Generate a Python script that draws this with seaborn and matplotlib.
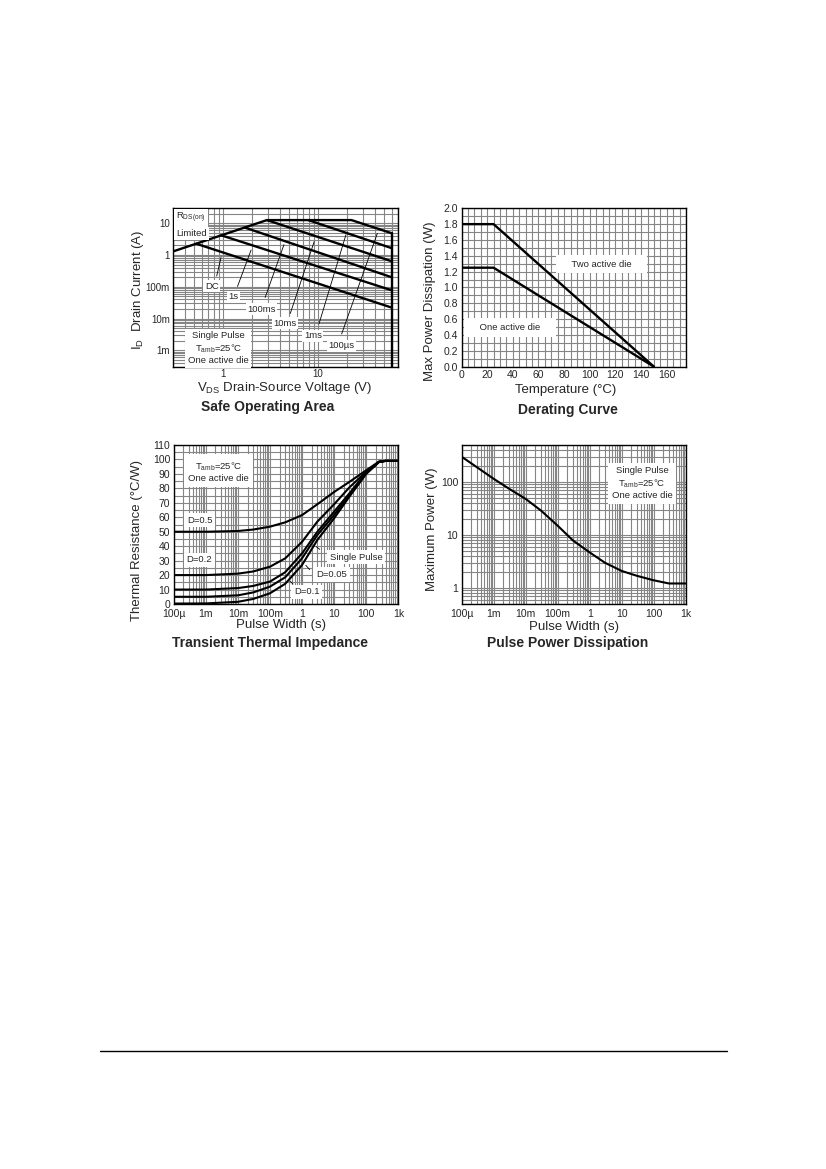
import matplotlib
matplotlib.use('Agg')
import matplotlib.pyplot as plt
from matplotlib.ticker import MultipleLocator, LogLocator, NullFormatter, FormatStrFormatter
from matplotlib.lines import Line2D
import numpy as np
import pandas as pd
import seaborn as sns

sns.set_style('white')
plt.rcParams['font.family'] = ['Liberation Sans', 'DejaVu Sans']
plt.rcParams['mathtext.fontset'] = 'custom'
plt.rcParams['mathtext.rm'] = 'Liberation Sans'

# ---- Safe Operating Area (V, A) ----
soa_rds_v = [0.3, 2.9]
soa_rds_i = [1.3, 12.5]
soa_100us_v = [2.9, 22.5, 60]
soa_100us_i = [12.5, 12.5, 4.8]
soa_1ms_v = [7.9, 60]
soa_1ms_i = [12.5, 1.63]
soa_10ms_v = [2.9, 60]
soa_10ms_i = [12.5, 0.63]
soa_100ms_v = [1.69, 60]
soa_100ms_i = [7.3, 0.198]
soa_1s_v = [0.96, 60]
soa_1s_i = [4.15, 0.077]
soa_dc_v = [0.525, 60]
soa_dc_i = [2.25, 0.022]
soa_vmax_v = [60, 60]
soa_vmax_i = [3e-4, 4.8]
soa_xticks = [1, 10]
soa_xlabels = ['1', '10']
soa_yticks = [1e-3, 1e-2, 1e-1, 1, 10]
soa_ylabels = ['1m', '10m', '100m', '1', '10']

# ---- Derating (degC, W) ----
der_temp = [0, 25, 150]
der_two = [1.8, 1.8, 0.0]
der_one = [1.25, 1.25, 0.0]

# ---- Transient thermal impedance (s, degC/W) ----
tz_t = [1e-4, 1e-3, 1e-2, 0.03, 0.1, 0.3, 1, 3, 10, 30, 100, 250, 400, 1000]
tz_d05 = [50, 50, 50.5, 51.5, 53.5, 56.5, 61.5, 69, 77.5, 84.5, 92.5, 98.5, 99, 99]
tz_d02 = [20, 20, 21, 22.5, 25.8, 31.6, 43, 57, 69, 80.7, 91.5, 98.5, 99, 99]
tz_d01 = [10, 10, 11, 12.5, 15.5, 22, 35, 50, 63.9, 76.6, 91, 98.3, 99, 99]
tz_d005 = [5, 5, 6, 8, 12, 18.5, 31.6, 47.7, 61.6, 75.4, 90.4, 98.3, 99, 99]
tz_single = [0.3, 0.4, 1.5, 3.5, 7.4, 14, 27, 44.3, 59.3, 74.3, 90, 98.2, 99, 99]

# ---- Pulse power (s, W) ----
pp_t = [1e-4, 3e-4, 1e-3, 3e-3, 1e-2, 0.03, 0.1, 0.3, 1, 3, 10, 30, 100, 300, 1000]
pp_p = [300, 190, 115, 75, 48, 29, 15, 7.9, 4.7, 3.0, 2.1, 1.7, 1.4, 1.22, 1.22]

pw_ticks = [1e-4, 1e-3, 1e-2, 1e-1, 1, 10, 100, 1000]
pw_labels = ['100µ', '1m', '10m', '100m', '1', '10', '100', '1k']

GRID = '#858585'
W, H = 826, 1169


def px_axes(x0, y0, x1, y1):
    return [x0 / W, 1 - y1 / H, (x1 - x0) / W, (y1 - y0) / H]


def ftext(x, y, s, **kw):
    fig.text(x / W, 1 - y / H, s, ha='center', va='center', **kw)


def style(ax, size=7.5, xpad=3.5):
    ax.grid(True, which='both', color=GRID, lw=0.8)
    ax.tick_params(which='both', length=0, labelsize=size)
    ax.tick_params(axis='x', pad=xpad)
    ax.tick_params(axis='y', pad=2.5)
    for sp in ax.spines.values():
        sp.set_color('black')
        sp.set_linewidth(1.0)
    ax.set_xlabel('')
    ax.set_ylabel('')


def log_minor(axis):
    axis.set_minor_locator(LogLocator(base=10, subs=np.arange(2, 10), numticks=30))
    axis.set_minor_formatter(NullFormatter())


def note(ax, x, y, s, pad=1.0, size=6.8):
    ax.text(x, y, s, transform=ax.transAxes, ha='center', va='center', fontsize=size,
            bbox=dict(fc='white', ec='none', pad=pad), zorder=4)


def pointer(ax, start, end):
    ax.annotate('', xy=end, xytext=start, xycoords='axes fraction', textcoords='axes fraction',
                arrowprops=dict(arrowstyle='-', lw=0.6, color='black'), zorder=3)


fig = plt.figure(figsize=(8.26, 11.69), dpi=100)

# ================= Safe Operating Area =================
ax1 = fig.add_axes(px_axes(173.3, 208, 398.3, 367))
soa = pd.concat([
    pd.DataFrame({'V': soa_rds_v, 'I': soa_rds_i, 'curve': 'RDS'}),
    pd.DataFrame({'V': soa_100us_v, 'I': soa_100us_i, 'curve': '100us'}),
    pd.DataFrame({'V': soa_1ms_v, 'I': soa_1ms_i, 'curve': '1ms'}),
    pd.DataFrame({'V': soa_10ms_v, 'I': soa_10ms_i, 'curve': '10ms'}),
    pd.DataFrame({'V': soa_100ms_v, 'I': soa_100ms_i, 'curve': '100ms'}),
    pd.DataFrame({'V': soa_1s_v, 'I': soa_1s_i, 'curve': '1s'}),
    pd.DataFrame({'V': soa_dc_v, 'I': soa_dc_i, 'curve': 'DC'}),
    pd.DataFrame({'V': soa_vmax_v, 'I': soa_vmax_i, 'curve': 'Vmax'}),
])
ax1.set_xscale('log')
ax1.set_yscale('log')
sns.lineplot(data=soa, x='V', y='I', units='curve', estimator=None, sort=False,
             color='black', lw=1.7, ax=ax1, legend=False)
ax1.set_xlim(0.3, 70)
ax1.set_ylim(3e-4, 30)
ax1.set_xticks(soa_xticks)
ax1.set_xticklabels(soa_xlabels)
ax1.set_yticks(soa_yticks)
ax1.set_yticklabels(soa_ylabels)
log_minor(ax1.xaxis)
log_minor(ax1.yaxis)
style(ax1, size=7, xpad=1.5)
ax1.text(0.012, 0.935, r'R$_{\mathregular{DS(on)}}$', transform=ax1.transAxes, ha='left', va='center',
         fontsize=6.8, bbox=dict(fc='white', ec='none', pad=1.5), zorder=4)
ax1.text(0.012, 0.84, 'Limited', transform=ax1.transAxes, ha='left', va='center',
         fontsize=6.8, bbox=dict(fc='white', ec='none', pad=1.5), zorder=4)
note(ax1, 0.171, 0.509, 'DC')
note(ax1, 0.266, 0.442, '1s')
note(ax1, 0.393, 0.363, '100ms')
note(ax1, 0.496, 0.275, '10ms')
note(ax1, 0.620, 0.197, '1ms')
note(ax1, 0.748, 0.134, '100µs')
pointer(ax1, (0.190, 0.555), (0.215, 0.706))
pointer(ax1, (0.281, 0.490), (0.350, 0.752))
pointer(ax1, (0.404, 0.421), (0.496, 0.786))
pointer(ax1, (0.516, 0.320), (0.630, 0.805))
pointer(ax1, (0.644, 0.255), (0.771, 0.849))
pointer(ax1, (0.744, 0.191), (0.911, 0.857))
note(ax1, 0.200, 0.118, 'Single Pulse\n' + r'T$_{\mathregular{amb}}$=25°C' + '\nOne active die',
     pad=2.0)

ftext(285, 388.5, r'V$_{\mathregular{DS}}$ Drain-Source Voltage (V)', fontsize=9.5)
ftext(138, 290, r'I$_{\mathregular{D}}$  Drain Current (A)', fontsize=9.5, rotation=90)
ftext(268, 407, 'Safe Operating Area', fontsize=10, fontweight='bold')

# ================= Derating Curve =================
ax2 = fig.add_axes(px_axes(461.5, 208.3, 686, 366.7))
der = pd.concat([
    pd.DataFrame({'T': der_temp, 'P': der_two, 'curve': 'two'}),
    pd.DataFrame({'T': der_temp, 'P': der_one, 'curve': 'one'}),
])
sns.lineplot(data=der, x='T', y='P', units='curve', estimator=None, sort=False,
             color='black', lw=1.7, ax=ax2, legend=False)
ax2.set_xlim(0, 175)
ax2.set_ylim(0, 2.0)
ax2.xaxis.set_minor_locator(MultipleLocator(5))
ax2.yaxis.set_major_locator(MultipleLocator(0.2))
ax2.yaxis.set_minor_locator(MultipleLocator(0.1))
ax2.set_xticks(np.arange(0, 161, 20))
ax2.yaxis.set_major_formatter(FormatStrFormatter('%.1f'))
style(ax2, xpad=2.5)
note(ax2, 0.625, 0.648, '    Two active die    ', pad=3.5)
note(ax2, 0.216, 0.249, '    One active die    ', pad=3.5)
ftext(566, 389.5, 'Temperature (°C)', fontsize=9.5)
ftext(430, 301.7, 'Max Power Dissipation (W)', fontsize=9.5, rotation=90)
ftext(568, 410, 'Derating Curve', fontsize=10, fontweight='bold')

# ================= Transient Thermal Impedance =================
ax3 = fig.add_axes(px_axes(173.7, 445, 398.3, 604))
tz = pd.concat([
    pd.DataFrame({'t': tz_t, 'R': tz_d05, 'curve': 'D=0.5'}),
    pd.DataFrame({'t': tz_t, 'R': tz_d02, 'curve': 'D=0.2'}),
    pd.DataFrame({'t': tz_t, 'R': tz_d01, 'curve': 'D=0.1'}),
    pd.DataFrame({'t': tz_t, 'R': tz_d005, 'curve': 'D=0.05'}),
    pd.DataFrame({'t': tz_t, 'R': tz_single, 'curve': 'Single'}),
])
ax3.set_xscale('log')
sns.lineplot(data=tz, x='t', y='R', units='curve', estimator=None, sort=False,
             color='black', lw=1.5, ax=ax3, legend=False)
ax3.set_xlim(1e-4, 1e3)
ax3.set_ylim(0, 110)
ax3.set_xticks(pw_ticks)
ax3.set_xticklabels(pw_labels)
log_minor(ax3.xaxis)
ax3.yaxis.set_major_locator(MultipleLocator(10))
ax3.yaxis.set_minor_locator(MultipleLocator(5))
style(ax3)
note(ax3, 0.199, 0.833, r'T$_{\mathregular{amb}}$=25°C' + '\nOne active die', pad=3.0)
note(ax3, 0.117, 0.528, 'D=0.5', pad=2.0)
note(ax3, 0.113, 0.277, 'D=0.2', pad=2.0)
note(ax3, 0.812, 0.294, 'Single Pulse', pad=2.0)
note(ax3, 0.703, 0.187, 'D=0.05', pad=2.0)
note(ax3, 0.592, 0.077, 'D=0.1', pad=2.0)
pointer(ax3, (0.660, 0.333), (0.625, 0.371))
pointer(ax3, (0.614, 0.203), (0.580, 0.256))
pointer(ax3, (0.540, 0.113), (0.509, 0.157))
ftext(281, 625, 'Pulse Width (s)', fontsize=9.5)
ftext(136.7, 540.8, 'Thermal Resistance (°C/W)', fontsize=9.5, rotation=90)
ftext(269.7, 643.3, 'Transient Thermal Impedance', fontsize=10, fontweight='bold')

# ================= Pulse Power Dissipation =================
ax4 = fig.add_axes(px_axes(461.7, 445, 685.7, 604))
pp = pd.DataFrame({'t': pp_t, 'P': pp_p})
ax4.set_xscale('log')
ax4.set_yscale('log')
sns.lineplot(data=pp, x='t', y='P', estimator=None, sort=False,
             color='black', lw=1.5, ax=ax4, legend=False)
ax4.set_xlim(1e-4, 1e3)
ax4.set_ylim(0.5, 500)
ax4.set_xticks(pw_ticks)
ax4.set_xticklabels(pw_labels)
ax4.set_yticks([1, 10, 100])
ax4.set_yticklabels(['1', '10', '100'])
log_minor(ax4.xaxis)
log_minor(ax4.yaxis)
style(ax4)
note(ax4, 0.806, 0.760, 'Single Pulse\n' + r'T$_{\mathregular{amb}}$=25°C' + '\nOne active die',
     pad=2.5)
ftext(574, 627, 'Pulse Width (s)', fontsize=9.5)
ftext(431.7, 529, 'Maximum Power (W)', fontsize=9.5, rotation=90)
ftext(567.5, 643.3, 'Pulse Power Dissipation', fontsize=10, fontweight='bold')

fig.add_artist(Line2D([100 / W, 727 / W], [1 - 1051 / H, 1 - 1051 / H], color='black', lw=1.0))

fig.savefig('out.png', dpi=100)
